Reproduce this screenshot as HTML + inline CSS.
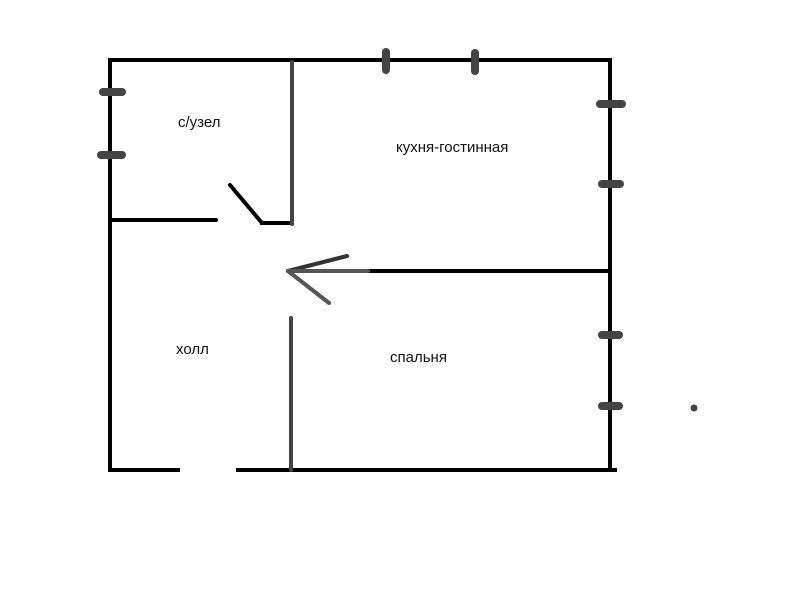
<!DOCTYPE html>
<html><head><meta charset="utf-8"><style>
html,body{margin:0;padding:0;background:#fff;}
svg{display:block;}
text{font-family:"Liberation Sans",sans-serif;font-size:15px;fill:#111;}
</style></head><body>
<svg width="800" height="600" viewBox="0 0 800 600" xmlns="http://www.w3.org/2000/svg">
<g stroke="#000" stroke-width="4" stroke-linecap="square" fill="none">
<line x1="110" y1="60" x2="610" y2="60"/>
<line x1="110" y1="60" x2="110" y2="470"/>
<line x1="610" y1="60" x2="610" y2="470"/>
<line x1="110" y1="470" x2="178" y2="470"/>
<line x1="238" y1="470" x2="615" y2="470"/>
<line x1="112" y1="220" x2="216" y2="220" stroke-linecap="round"/>
<line x1="368" y1="271" x2="610" y2="271"/>
<line x1="230" y1="185" x2="262" y2="223" stroke-linecap="round"/>
<line x1="262" y1="223" x2="292" y2="223"/>
</g>
<g stroke="#444" stroke-width="4" stroke-linecap="round" fill="none">
<line x1="292" y1="62" x2="292" y2="224"/>
<line x1="291" y1="318" x2="291" y2="470"/>
<line x1="288" y1="271" x2="347" y2="256" stroke="#333"/>
<line x1="288" y1="271" x2="329" y2="303" stroke="#555"/>
<line x1="288" y1="271" x2="368" y2="271" stroke="#555"/>
</g>
<g stroke="#444" stroke-width="8" stroke-linecap="round">
<line x1="103" y1="92" x2="122" y2="92"/>
<line x1="101" y1="155" x2="122" y2="155"/>
<line x1="386" y1="52" x2="386" y2="70"/>
<line x1="475" y1="53" x2="475" y2="71"/>
<line x1="600" y1="104" x2="622" y2="104"/>
<line x1="602" y1="184" x2="620" y2="184"/>
<line x1="602" y1="335" x2="619" y2="335"/>
<line x1="602" y1="406" x2="619" y2="406"/>
</g>
<circle cx="694" cy="408" r="3.5" fill="#444"/>
<text x="178" y="127">с/узел</text>
<text x="396" y="152">кухня-гостинная</text>
<text x="176" y="354">холл</text>
<text x="390" y="362">спальня</text>
</svg>
</body></html>
